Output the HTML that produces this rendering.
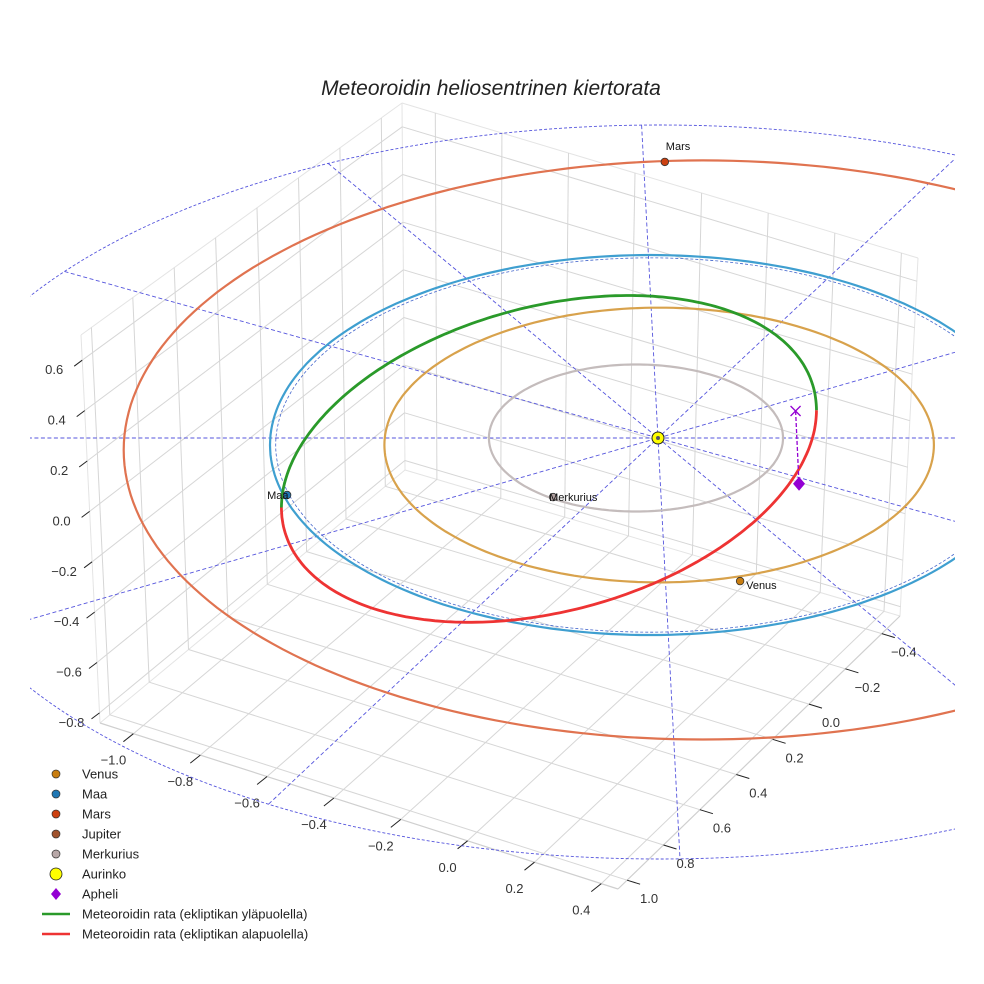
<!DOCTYPE html>
<html><head><meta charset="utf-8">
<style>
html,body{margin:0;padding:0;background:#fff;}
svg{display:block;font-family:"Liberation Sans",sans-serif;}
</style></head>
<body>
<svg id="chart" width="984" height="984" viewBox="0 0 984 984" xmlns="http://www.w3.org/2000/svg">
<defs><clipPath id="clipPlot"><rect x="30" y="0" width="925" height="984"/></clipPath></defs>
<text x="491" y="95" text-anchor="middle" font-size="21" font-style="italic" fill="#222">Meteoroidin heliosentrinen kiertorata</text>
<g id="box"></g>
<g id="ticks"></g>
<g id="data" clip-path="url(#clipPlot)"></g>
<g id="legend"></g>
</svg>
<script>
// ---- data ----
const xTicks = [-1.0,-0.8,-0.6,-0.4,-0.2,0.0,0.2,0.4];
const yTicks = [-0.4,-0.2,0.0,0.2,0.4,0.6,0.8,1.0];
const zTicks = [-0.8,-0.6,-0.4,-0.2,0.0,0.2,0.4,0.6];
const orbitNames = ["Merkurius","Venus","Maa","Mars"];
const orbitA = [0.387,0.723,1.0,1.524];
const orbitCx = [-0.058,0.003,-0.021,0.118];
const orbitCy = [0.0,-0.037,-0.037,-0.063];
const orbitColors = ["#c4bcbc","#d8a24c","#3f9fd0","#e07350"];
const planetNames = ["Venus","Maa","Mars","Merkurius"];
const planetX = [0.216,-0.976,0.018,-0.276];
const planetY = [-0.753,-0.30,1.453,-0.311];
const planetColors = ["#c87d10","#1f77b4","#cc4010","#b0a0a0"];
const meteorCenter = [-0.287,-0.11];
const meteorU = [0.704,0.256];
const meteorV = [0.0,0.821];
const aphelion = [0.362,0.142,-0.29];
const gridAngles = [0,30,60,90,120,150];
const gridAngleSkew = [0,0,2,1.5,1,0.7];

// ---- axis functions ----
const SUN = [658,438];
function proj(x,y,z){ return [SUN[0]+380*x-12*z, SUN[1]-190*y-251*z]; }
const XR=[-1.1,0.45], YR=[-0.5,1.05], ZR=[-0.84,0.7];
const Lb=[100,723], F=[618,889], Rb=[900,616], Bb=[405,470], Lt=[81,335], Bt=[402,103], Rt=[918,258];
function bil(p00,p10,p01,p11,u,v){
  const a=[p00[0]+(p10[0]-p00[0])*u, p00[1]+(p10[1]-p00[1])*u];
  const b=[p01[0]+(p11[0]-p01[0])*u, p01[1]+(p11[1]-p01[1])*u];
  return [a[0]+(b[0]-a[0])*v, a[1]+(b[1]-a[1])*v];
}
const ux=x=>(x-XR[0])/(XR[1]-XR[0]);
const vy=y=>(YR[1]-y)/(YR[1]-YR[0]);
const wz=z=>(z-ZR[0])/(ZR[1]-ZR[0]);
function floorP(x,y){ return bil(Lb,F,Bb,Rb,ux(x),vy(y)); }
function leftP(y,z){ return bil(Lb,Bb,Lt,Bt,vy(y),wz(z)); }
function rightP(x,z){ return bil(Bb,Rb,Bt,Rt,ux(x),wz(z)); }

const NS="http://www.w3.org/2000/svg";
function mk(tag,attrs,parent){const e=document.createElementNS(NS,tag);for(const k in attrs)e.setAttribute(k,attrs[k]);parent.appendChild(e);return e;}
function line(p,q,st,parent){return mk('line',{x1:p[0].toFixed(1),y1:p[1].toFixed(1),x2:q[0].toFixed(1),y2:q[1].toFixed(1),stroke:st.c,'stroke-width':st.w,'stroke-dasharray':st.d||'none'},parent);}

const box=document.getElementById('box');
const G={c:'#d6d6d6',w:1};
[[Lb,Lt],[Lt,Bt],[Bt,Rt],[Rt,Rb],[Bb,Bt],[Lb,Bb],[Bb,Rb]].forEach(s=>{const l=line(s[0],s[1],{c:'#e4e4e4',w:1},box);

});
xTicks.forEach(x=>{const l=line(floorP(x,YR[1]),floorP(x,YR[0]),G,box);


const r=line(rightP(x,ZR[0]),rightP(x,ZR[1]),G,box);

});
yTicks.forEach(y=>{const l=line(floorP(XR[0],y),floorP(XR[1],y),G,box);


const r=line(leftP(y,ZR[0]),leftP(y,ZR[1]),G,box);

});
zTicks.forEach(z=>{const l=line(leftP(YR[1],z),leftP(YR[0],z),G,box);


const r=line(rightP(XR[0],z),rightP(XR[1],z),G,box);

});
[[Lb,F],[F,Rb]].forEach(s=>{const l=line(s[0],s[1],{c:'#cfcfcf',w:1.2},box);

});

const tk=document.getElementById('ticks');
const T={c:'#222',w:1};
function label(p,txt,name){const t=mk('text',{x:p[0].toFixed(1),y:p[1].toFixed(1),'text-anchor':'middle','font-size':13,fill:'#333'},tk);t.textContent=txt;

}
const fmt=v=>(v<0?'\u2212':'')+Math.abs(v).toFixed(1);
xTicks.forEach(x=>{const p=floorP(x,YR[1]);const m=line(p,[p[0]-10,p[1]+8],T,tk);


label([p[0]-20,p[1]+31],fmt(x),'x-tick-label');});
yTicks.forEach(y=>{const p=floorP(XR[1],y);const m=line(p,[p[0]+13,p[1]+4],T,tk);


label([p[0]+22,p[1]+23],fmt(y),'y-tick-label');});
zTicks.forEach(z=>{const p=leftP(YR[1],z);const m=line(p,[p[0]-8,p[1]+6],T,tk);


label([p[0]-28,p[1]+14],fmt(z),'z-tick-label');});

const dg=document.getElementById('data');
function pathFrom(fn,t0,t1,n){let d='';for(let i=0;i<=n;i++){const t=t0+(t1-t0)*i/n;const p=fn(t);d+=(i?'L':'M')+p[0].toFixed(1)+' '+p[1].toFixed(1);}return d;}
const RING={cx:660,cy:492,rx:745,ry:367};
const ring=mk('ellipse',{cx:RING.cx,cy:RING.cy,rx:RING.rx,ry:RING.ry,fill:'none',stroke:'#5555dd','stroke-width':0.9,'stroke-dasharray':'3 2'},dg);


function rayHit(d){const ox=SUN[0]-RING.cx,oy=SUN[1]-RING.cy;const a=(d[0]/RING.rx)**2+(d[1]/RING.ry)**2;const b=2*(ox*d[0]/RING.rx**2+oy*d[1]/RING.ry**2);const c=(ox/RING.rx)**2+(oy/RING.ry)**2-1;const t=(-b+Math.sqrt(b*b-4*a*c))/(2*a);return [SUN[0]+d[0]*t,SUN[1]+d[1]*t];}
gridAngles.forEach((ang,i)=>{const r=(ang+gridAngleSkew[i])*Math.PI/180;const p=proj(Math.cos(r),Math.sin(r),0);const d=[p[0]-SUN[0],p[1]-SUN[1]];
const a=rayHit(d),b=rayHit([-d[0],-d[1]]);const l=line(a,b,{c:'#5555dd',w:0.9,d:'4 2.5'},dg);

});
orbitA.forEach((a,i)=>{const d=pathFrom(t=>proj(orbitCx[i]+a*Math.cos(t),orbitCy[i]+a*Math.sin(t),0),0,2*Math.PI,240);
const p=mk('path',{d:d+'Z',fill:'none',stroke:orbitColors[i],'stroke-width':2.2},dg);

});
{const i=2;const d=pathFrom(t=>proj(orbitCx[i]+0.985*orbitA[i]*Math.cos(t),orbitCy[i]+0.985*orbitA[i]*Math.sin(t),0),0,2*Math.PI,240);
const p=mk('path',{d:d,fill:'none',stroke:'#4466cc','stroke-width':0.8,'stroke-dasharray':'3 2'},dg);

}
function meteor(t){return proj(meteorCenter[0]+meteorU[0]*Math.cos(t)+meteorV[0]*Math.sin(t),meteorCenter[1]+meteorU[1]*Math.cos(t)+meteorV[1]*Math.sin(t),0);}
const mg=mk('path',{d:pathFrom(meteor,0,Math.PI,150),fill:'none',stroke:'#2a9a2a','stroke-width':2.8},dg);


const mr=mk('path',{d:pathFrom(meteor,Math.PI,2*Math.PI,150),fill:'none',stroke:'#ee3333','stroke-width':2.8},dg);


const ap=proj(aphelion[0],aphelion[1],aphelion[2]);
const apx=proj(aphelion[0],aphelion[1],0);
const al=line(apx,ap,{c:'#9400d3',w:1.3,d:'4 2'},dg);


const ax=mk('path',{d:`M${apx[0]-5} ${apx[1]-5}L${apx[0]+5} ${apx[1]+5}M${apx[0]-5} ${apx[1]+5}L${apx[0]+5} ${apx[1]-5}`,stroke:'#9400d3','stroke-width':1.3,fill:'none'},dg);


const ad=mk('path',{d:`M${ap[0]} ${ap[1]-7}L${ap[0]+6} ${ap[1]}L${ap[0]} ${ap[1]+7}L${ap[0]-6} ${ap[1]}Z`,fill:'#9400d3'},dg);


const sun=proj(0,0,0);
const sc=mk('circle',{cx:sun[0],cy:sun[1],r:6,fill:'#ffff00',stroke:'#222','stroke-width':1},dg);


const sd=mk('circle',{cx:sun[0],cy:sun[1],r:2,fill:'#556'},dg);


const labelOff={Venus:[6,8,'start'],Maa:[-20,4,'start'],Mars:[1,-12,'start'],Merkurius:[-4,4,'start']};
planetNames.forEach((n,i)=>{const p=proj(planetX[i],planetY[i],0);
const c=mk('circle',{cx:p[0].toFixed(1),cy:p[1].toFixed(1),r:3.8,fill:planetColors[i],stroke:'#333','stroke-width':0.8},dg);


const o=labelOff[n];const t=mk('text',{x:(p[0]+o[0]).toFixed(1),y:(p[1]+o[1]).toFixed(1),'text-anchor':o[2],'font-size':11,fill:'#111'},dg);t.textContent=n;

});

const legendLabels=["Venus","Maa","Mars","Jupiter","Merkurius","Aurinko","Apheli","Meteoroidin rata (ekliptikan yläpuolella)","Meteoroidin rata (ekliptikan alapuolella)"];
const legendColors=["#c87d10","#1f77b4","#cc4010","#a0522d","#b8a8a8","#ffff00","#9400d3","#2a9a2a","#ee3333"];
const lg=document.getElementById('legend');
legendLabels.forEach((lab,i)=>{const y=774+i*20;const g=mk('g',{},lg);


if(i<5){mk('circle',{cx:56,cy:y,r:4,fill:legendColors[i],stroke:'#333','stroke-width':0.7},g);}
else if(i===5){mk('circle',{cx:56,cy:y,r:6,fill:legendColors[i],stroke:'#222','stroke-width':0.8},g);}
else if(i===6){mk('path',{d:`M56 ${y-6}L61 ${y}L56 ${y+6}L51 ${y}Z`,fill:legendColors[i]},g);}
else {mk('line',{x1:42,y1:y,x2:70,y2:y,stroke:legendColors[i],'stroke-width':2.4},g);}
const t=mk('text',{x:82,y:y+4.5,'font-size':13,fill:'#222'},g);t.textContent=lab;});
</script>
</body></html>
